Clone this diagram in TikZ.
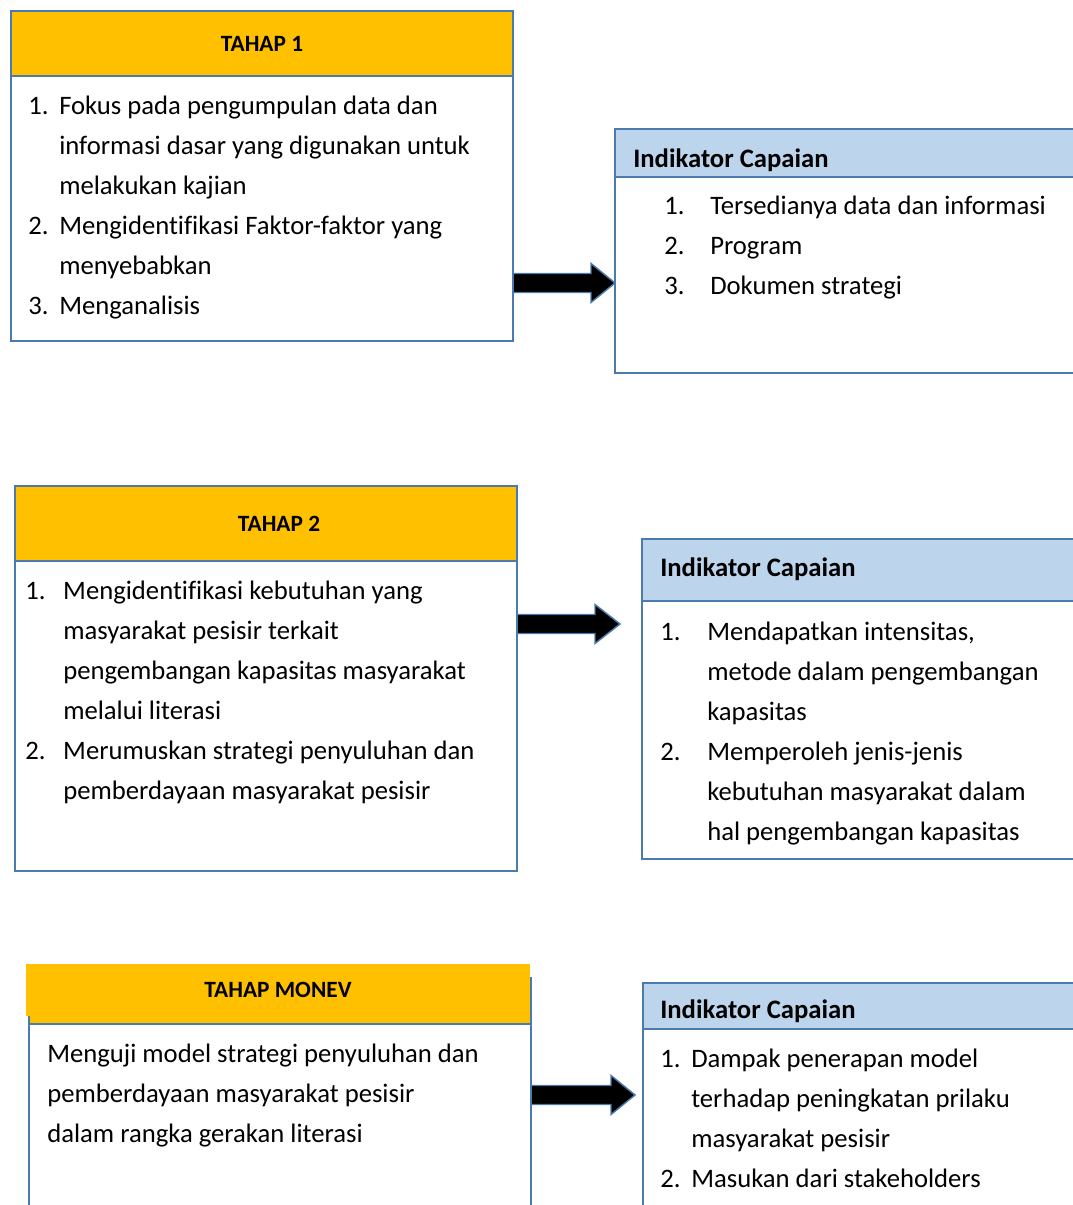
\documentclass[tikz,border=0pt]{standalone}
\usepackage{fontspec}
\setmainfont{Carlito}[Ligatures=NoCommon]
\usetikzlibrary{positioning,calc}
\definecolor{tahapfill}{HTML}{FFC000}
\definecolor{indfill}{HTML}{BCD5EC}
\definecolor{rim}{HTML}{4A7AAE}
\newcommand{\steplist}[2]{\begin{tabular}{@{}p{#1}@{}l@{}}#2\end{tabular}}
\newcommand{\blockarrow}[3]{\draw[blockarr] ($(#1)+(0,-9.5)$) -- ($(#2)+(-#3,-9.5)$) -- ($(#2)+(-#3,-19.5)$) -- (#2) -- ($(#2)+(-#3,19.5)$) -- ($(#2)+(-#3,9.5)$) -- ($(#1)+(0,9.5)$);}
\tikzset{
  panel/.style={draw=rim, line width=1.5pt, rectangle, inner sep=0pt, anchor=north west},
  tahaphead/.style={panel, fill=tahapfill, font=\fontsize{17.5}{20}\selectfont\bfseries},
  indhead/.style={panel, fill=indfill},
  indtitle/.style={anchor=base west, inner sep=0pt, font=\fontsize{20}{24}\selectfont\bfseries},
  bodytext/.style={anchor=north west, inner sep=0pt, align=left, font=\fontsize{20}{30}\selectfont},
  blockarr/.style={draw=rim, fill=black, line width=1.1pt, line join=miter},
}
\begin{document}
\begin{tikzpicture}[x=0.75pt,y=-0.75pt]
\useasboundingbox (0,0) rectangle (1072,1205);

\node[panel, minimum width=376.5pt, minimum height=247.5pt] (t1) at (10,10) {};
\node[tahaphead, minimum width=376.5pt, minimum height=48.75pt] (t1head) at (t1.north west) {TAHAP 1};
\node[bodytext] (t1text) at (28,86) {\steplist{23.25pt}{1. & Fokus pada pengumpulan data dan\\ & informasi dasar yang digunakan untuk\\ & melakukan kajian\\ 2. & Mengidentifikasi Faktor-faktor yang\\ & menyebabkan\\ 3. & Menganalisis}};

\node[panel, minimum width=364.5pt, minimum height=183pt] (i1) at (614,128) {};
\node[indhead, minimum width=364.5pt, minimum height=36pt] (i1head) at (i1.north west) {};
\node[indtitle] (i1title) at ($(i1.north west)+(19,40)$) {Indikator Capaian};
\node[bodytext] (i1text) at (664,186) {\steplist{34.5pt}{1. & Tersedianya data dan informasi\\ 2. & Program\\ 3. & Dokumen strategi}};

\node[panel, minimum width=376.5pt, minimum height=288.75pt] (t2) at (14,485) {};
\node[tahaphead, minimum width=376.5pt, minimum height=56.25pt] (t2head) at (t2.north west) {\hspace*{19.5pt}TAHAP 2};
\node[bodytext] (t2text) at (25,571) {\steplist{28.5pt}{1. & Mengidentifikasi kebutuhan yang\\ & masyarakat pesisir terkait\\ & pengembangan kapasitas masyarakat\\ & melalui literasi\\ 2. & Merumuskan strategi penyuluhan dan\\ & pemberdayaan masyarakat pesisir}};

\node[panel, minimum width=344.25pt, minimum height=240pt] (i2) at (641,538) {};
\node[indhead, minimum width=344.25pt, minimum height=46.5pt] (i2head) at (i2.north west) {};
\node[indtitle] (i2title) at ($(i2.north west)+(19,38)$) {Indikator Capaian};
\node[bodytext] (i2text) at (660,612) {\steplist{35.25pt}{1. & Mendapatkan intensitas,\\ & metode dalam pengembangan\\ & kapasitas\\ 2. & Memperoleh jenis-jenis\\ & kebutuhan masyarakat dalam\\ & hal pengembangan kapasitas}};

\node[panel, minimum width=376.5pt, minimum height=204.75pt] (t3) at (28,977) {};
\node[panel, fill=tahapfill, minimum width=376.5pt, minimum height=34.5pt] (t3band) at (t3.north west) {};
\node[tahaphead, draw=none, minimum width=378pt, minimum height=39pt] (t3head) at (25,963) {TAHAP MONEV};
\node[bodytext] (t3text) at (47,1034) {\begin{tabular}{@{}l@{}}Menguji model strategi penyuluhan dan\\ pemberdayaan masyarakat pesisir\\ dalam rangka gerakan literasi\end{tabular}};

\node[panel, minimum width=343.5pt, minimum height=225pt] (i3) at (642,982) {};
\node[indhead, minimum width=343.5pt, minimum height=34.5pt] (i3head) at (i3.north west) {};
\node[indtitle] (i3title) at ($(i3.north west)+(18,36)$) {Indikator Capaian};
\node[bodytext] (i3text) at (660,1039) {\steplist{23.25pt}{1. & Dampak penerapan model\\ & terhadap peningkatan prilaku\\ & masyarakat pesisir\\ 2. & Masukan dari stakeholders}};

\coordinate (a1s) at ($(t1.north east)+(0,273)$);
\coordinate (a1e) at ($(i1.west |- a1s)+(1,0)$);
\coordinate (a2s) at ($(t2.north east)+(0,139)$);
\coordinate (a2e) at ($(i2.west |- a2s)+(-21,0)$);
\coordinate (a3s) at ($(t3.north east)+(0,118)$);
\coordinate (a3e) at ($(i3.west |- a3s)+(-7,0)$);
\blockarrow{a1s}{a1e}{24}
\blockarrow{a2s}{a2e}{25}
\blockarrow{a3s}{a3e}{24}
\end{tikzpicture}
\end{document}
